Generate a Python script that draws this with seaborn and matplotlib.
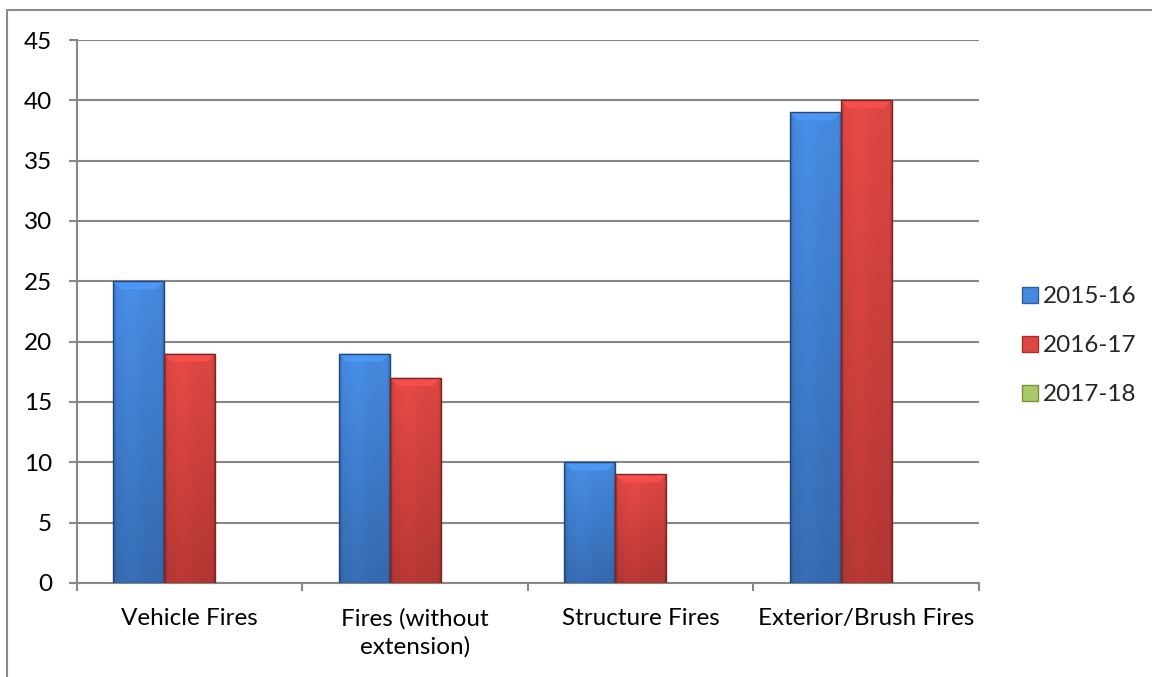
import numpy as np
import pandas as pd
import matplotlib
matplotlib.use("Agg")
import matplotlib.pyplot as plt
from matplotlib.patches import Rectangle, Polygon
from matplotlib.lines import Line2D
import seaborn as sns

# Incident counts by fire type and fiscal year
categories = ["Vehicle Fires", "Fires (without\nextension)", "Structure Fires", "Exterior/Brush Fires"]
years = ["2015-16", "2016-17", "2017-18"]
fy_2015_16 = [25, 19, 10, 39]
fy_2016_17 = [19, 17, 9, 40]
fy_2017_18 = [0, 0, 0, 0]
y_ticks = [0, 5, 10, 15, 20, 25, 30, 35, 40, 45]

# Light (top) and dark (bottom) shades for each series
shades = {
    "2015-16": ("#4589DE", "#2F5E9E"),
    "2016-17": ("#DE4743", "#A2302E"),
    "2017-18": ("#A9C966", "#77933C"),
}

df = pd.DataFrame({
    "category": np.repeat(categories, len(years)),
    "year": years * len(categories),
    "count": [v for trio in zip(fy_2015_16, fy_2016_17, fy_2017_18) for v in trio],
})

sns.set_theme(style="white")
plt.rcParams["font.family"] = ["Lato", "DejaVu Sans"]
FS = 17.5

fig = plt.figure(figsize=(11.52, 6.77), dpi=100)
ax = fig.add_axes([0.0668, 0.1389, 0.7830, 0.8020])

palette = {y: shades[y][0] for y in years}
sns.barplot(data=df, x="category", y="count", hue="year", hue_order=years,
            order=categories, palette=palette, width=0.68, gap=0,
            errorbar=None, legend=False, ax=ax, zorder=3, linewidth=0)


def hex_rgb(h):
    return np.array(matplotlib.colors.to_rgb(h))


def shade_bar(patch, light, dark):
    x0, y0 = patch.get_x(), patch.get_y()
    w, h = patch.get_width(), patch.get_height()
    if h <= 0:
        return
    lo, hi = hex_rgb(dark), hex_rgb(light)
    ny, nx = 200, 60
    t = np.linspace(1, 0, ny)[:, None]          # 1 at top row
    u = np.linspace(0, 1, nx)[None, :]
    base = lo + (hi - lo) * (0.25 + 0.75 * t)[..., None]
    # darker rim on the sides, soft sheen left of centre
    rim = 1 - 0.22 * (np.clip(1 - u / 0.06, 0, 1) + np.clip(1 - (1 - u) / 0.06, 0, 1))
    sheen = 1 + 0.05 * np.exp(-((u - 0.35) / 0.2) ** 2)
    img = np.clip(base * (rim * sheen)[..., None], 0, 1)
    im = ax.imshow(img, extent=[x0, x0 + w, y0, y0 + h], aspect="auto",
                   origin="upper", zorder=3.5, interpolation="bilinear")
    im.set_clip_path(patch)
    # bevelled top edge, sized in display pixels
    inv = ax.transData.inverted()
    px = inv.transform((8, 8)) - inv.transform((0, 0))
    dx, dy = abs(px[0]), abs(px[1])
    top = y0 + h
    bevel = Polygon([(x0, top), (x0 + w, top), (x0 + w - dx, top - dy), (x0 + dx, top - dy)],
                    closed=True, facecolor=np.clip(hi * 1.12, 0, 1), edgecolor="none",
                    zorder=3.6, alpha=0.9)
    ax.add_patch(bevel)
    ax.add_patch(Rectangle((x0, y0), w, h, fill=False, edgecolor=lo * 0.75,
                           linewidth=1.0, zorder=3.7))


ax.set_xlim(-0.5, len(categories) - 0.5)
ax.set_ylim(0, 45)
fig.canvas.draw()
# seaborn adds bars grouped by hue level
bars = [p for p in ax.patches if isinstance(p, Rectangle)]
n = len(categories)
for i, year in enumerate(years):
    for p in bars[i * n:(i + 1) * n]:
        shade_bar(p, *shades[year])

grid_c = "#878787"
ax.set_yticks(y_ticks)
ax.yaxis.grid(True, color=grid_c, linewidth=1.5, zorder=1)
ax.xaxis.grid(False)
for s in ["top", "right"]:
    ax.spines[s].set_visible(False)
for s in ["left", "bottom"]:
    ax.spines[s].set_color(grid_c)
    ax.spines[s].set_linewidth(1.5)
    ax.spines[s].set_zorder(2)

ax.set_xlabel("")
ax.set_ylabel("")
ax.set_xticks(range(n))
ax.set_xticklabels(categories, fontsize=FS, linespacing=1.35)
ax.set_xticks(np.arange(-0.5, n, 1.0), minor=True)
ax.tick_params(axis="x", which="major", length=0, pad=18, colors="black")
ax.tick_params(axis="x", which="minor", length=6, width=1.5, color=grid_c, direction="out")
ax.tick_params(axis="y", which="major", length=6, width=1.5, color=grid_c,
               direction="out", pad=12, labelsize=FS, labelcolor="black")
ax.tick_params(left=True, bottom=True)
ax.tick_params(axis="x", which="minor", bottom=True)

handles = [Line2D([0], [0], marker="s", linestyle="none", markersize=11,
                  markerfacecolor=shades[y][0], markeredgecolor=shades[y][1],
                  markeredgewidth=1) for y in years]
fig.legend(handles, years, loc="center left", bbox_to_anchor=(0.877, 0.489),
           frameon=False, fontsize=FS, handlelength=0.6, handletextpad=0.25,
           labelspacing=1.15, borderpad=0)

# outer chart frame
fig.add_artist(Rectangle((7 / 1152, -0.1), 1.2, 1 - 10 / 677 + 0.1,
                         transform=fig.transFigure, fill=False,
                         edgecolor="#8C8C8C", linewidth=1.5))

fig.savefig("out.png", dpi=100, facecolor="white")
